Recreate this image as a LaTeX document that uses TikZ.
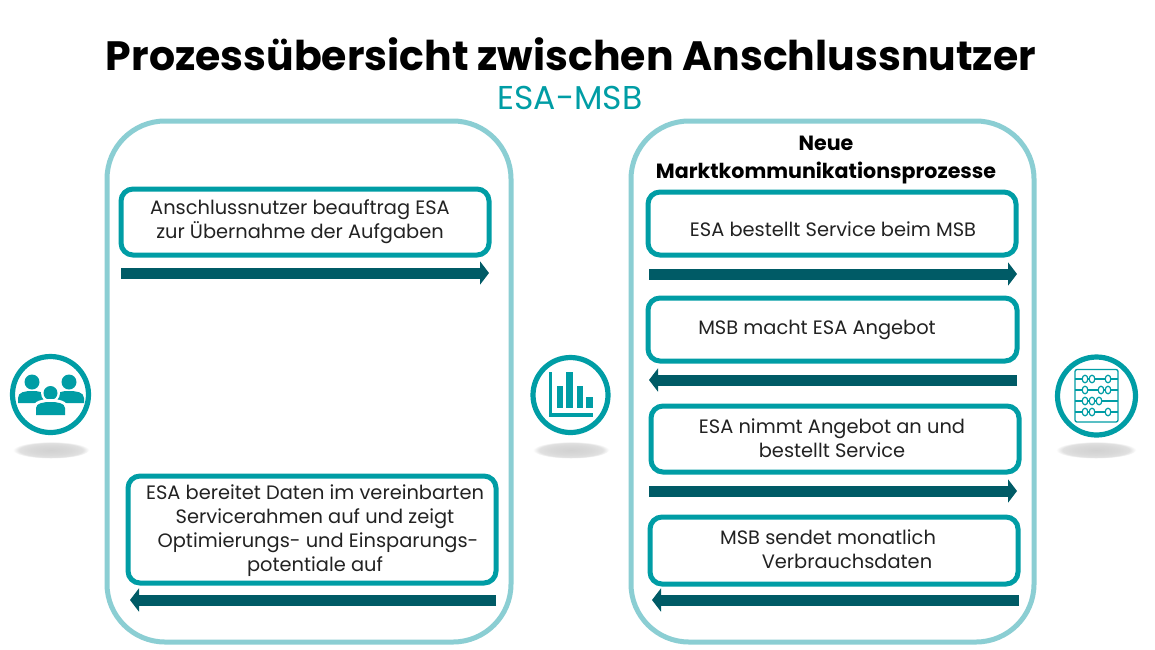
\documentclass[tikz,border=0pt]{standalone}
\usepackage{fontspec}
\setmainfont{Poppins}
\usetikzlibrary{arrows.meta}
\definecolor{tealx}{HTML}{009DA5}
\definecolor{lightx}{HTML}{8BCED3}
\definecolor{darkx}{HTML}{005B66}
\definecolor{textx}{HTML}{222222}
\pgfdeclareradialshading{flatshadow}{\pgfpointorigin}{color(0bp)=(black!18); color(14bp)=(black!15); color(21bp)=(black!12); color(25bp)=(white); color(50bp)=(white)}
\tikzset{
  x=1pt,y=-1pt,
  panelbox/.style={draw=lightx,line width=5pt,rounded corners=58pt},
  stepbox/.style={draw=tealx,line width=5pt,rounded corners=12pt,fill=white},
  flow/.style={draw=darkx,line width=11pt,-{Triangle[length=9pt,width=23pt]}},
  txt/.style={text=textx,font=\fontsize{19.4}{24}\selectfont,align=center,inner sep=0pt},
  ring/.style={draw=tealx,line width=5.2pt,fill=white},
  shadowx/.style={shading=flatshadow,draw=none},
  ico/.style={fill=tealx,draw=none},
  wire/.style={draw=tealx,line width=1.3pt},
  bead/.style={draw=tealx,line width=1.2pt,fill=white}
}
\begin{document}
\begin{tikzpicture}
\useasboundingbox (0,0) rectangle (1155,649);
\fill[white] (0,0) rectangle (1155,649);
\node[text=black,font=\fontsize{41}{50}\selectfont\bfseries,inner sep=0pt] (title) at (571,54) {Prozessübersicht zwischen Anschlussnutzer};
\node[text=tealx,font=\fontsize{33}{40}\selectfont,inner sep=0pt] (sub) at (570,98) {ESA-MSB};
% panels
\draw[panelbox] (107,121) rectangle (511,642);
\draw[panelbox] (631,121) rectangle (1034,642);
\node[text=black,font=\fontsize{20.6}{28}\selectfont\bfseries,align=center,inner sep=0pt] (head) at (826,160) {Neue\\Marktkommunikationsprozesse};
% step boxes
\draw[stepbox] (121,189) rectangle (489,255);
\draw[stepbox] (128,476) rectangle (496,583);
\draw[stepbox] (648,192) rectangle (1016,255);
\draw[stepbox] (648,298) rectangle (1017,361);
\draw[stepbox] (651,406) rectangle (1019,472);
\draw[stepbox] (650,517) rectangle (1018,584);
% texts
\node[txt] (t1) at (300,222) {Anschlussnutzer beauftrag ESA\\zur Übernahme der Aufgaben};
\node[txt] (t2) at (315,531) {ESA bereitet Daten im vereinbarten\\Servicerahmen auf und zeigt\\\hspace*{6pt}Optimierungs- und Einsparungs-\\potentiale auf};
\node[txt] (t3) at (833,229) {ESA bestellt Service beim MSB};
\node[txt] (t4) at (817,329.5) {MSB macht ESA Angebot};
\node[txt] (t5) at (832,438) {ESA nimmt Angebot an und\\bestellt Service};
\node[txt] (t6) at (828,549) {MSB sendet monatlich\\\hspace*{38pt}Verbrauchsdaten};
% arrows
\coordinate (a1s) at (121,273); \coordinate (a1e) at (489,273);
\coordinate (a2s) at (649,274); \coordinate (a2e) at (1017,274);
\coordinate (a3s) at (1017,380); \coordinate (a3e) at (649,380);
\coordinate (a4s) at (649,491); \coordinate (a4e) at (1017,491);
\coordinate (a5s) at (1019,600); \coordinate (a5e) at (652,600);
\coordinate (a6s) at (496,600); \coordinate (a6e) at (130,600);
\foreach \s/\e in {a1s/a1e,a2s/a2e,a3s/a3e,a4s/a4e,a5s/a5e,a6s/a6e}
  \draw[flow] (\s) -- (\e);
% shadows
\path[shadowx] (51,450) ellipse [x radius=38,y radius=8.5];
\path[shadowx] (571,450) ellipse [x radius=38,y radius=8.5];
\path[shadowx] (1096,450) ellipse [x radius=40,y radius=8.5];
% rings
\draw[ring] (50.5,394.5) circle [radius=38];
\draw[ring] (570.5,395) circle [radius=37.5];
\draw[ring] (1096.5,396) circle [radius=39];
% people icon
\fill[ico] (32,382) circle [radius=7.5];
\fill[ico] (69,382) circle [radius=7.5];
\fill[ico] (18,403) -- (18,398) .. controls (18,392) and (25,391) .. (32,391) .. controls (39,391) and (46,392) .. (46,398) -- (38,403) -- cycle;
\fill[ico] (84,403) -- (84,398) .. controls (84,392) and (76,391) .. (69,391) .. controls (62,391) and (56,392) .. (55,398) -- (63,403) -- cycle;
\fill[white] (50.5,393) circle [radius=9.5];
\fill[ico] (50.5,393) circle [radius=7];
\fill[white] (33,415) -- (33,408) .. controls (33,401) and (42,399) .. (50.5,399) .. controls (59,399) and (68,401) .. (68,408) -- (68,417) -- (33,417) -- cycle;
\fill[ico] (36,415) -- (36,408) .. controls (36,403) and (44,402) .. (50.5,402) .. controls (57,402) and (65,403) .. (65,408) -- (65,415) -- cycle;
% chart icon
\fill[ico] (549,372) rectangle (552,417);
\fill[ico] (549,413) rectangle (593,417);
\fill[ico] (557,386) rectangle (563,408);
\fill[ico] (566,372) rectangle (573,408);
\fill[ico] (577,386) rectangle (583,408);
\fill[ico] (586,397) rectangle (593,408);
% abacus icon
\draw[wire,rounded corners=2pt] (1075,369.5) rectangle (1118,422);
\foreach \y/\xs in {379/{1085,1092,1108},390/{1085,1101,1108},401/{1085,1092,1099},412/{1085,1092,1108}}{
  \draw[wire] (1075,\y) -- (1118,\y);
  \foreach \b in \xs \draw[bead] (\b,\y) ellipse [x radius=2.8,y radius=3.8];
}
\end{tikzpicture}
\end{document}
